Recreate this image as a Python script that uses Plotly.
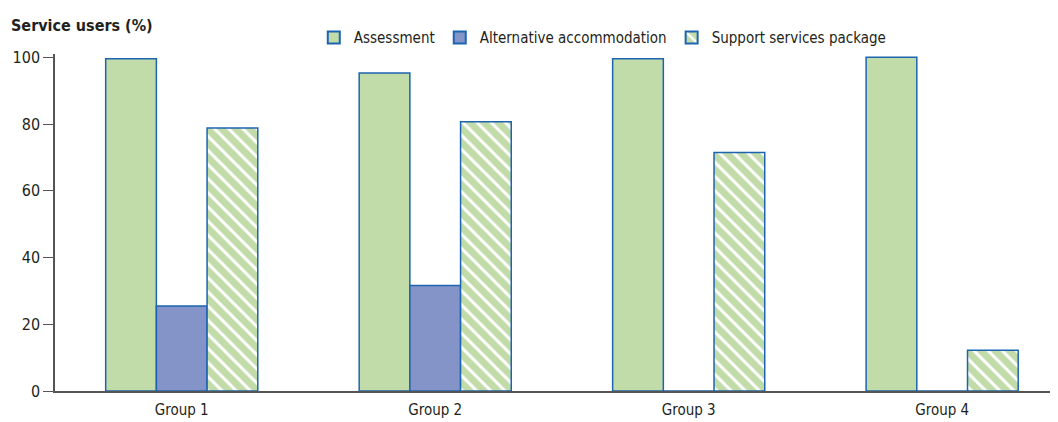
import plotly.graph_objects as go

groups = ["Group 1", "Group 2", "Group 3", "Group 4"]
assessment = [99.6, 95.3, 99.6, 100.0]
alternative = [25.5, 31.6, 0, 0]
support = [78.8, 80.7, 71.5, 12.2]
y_ticks = [0, 20, 40, 60, 80, 100]

FONT = "DejaVu Sans Condensed, Liberation Sans Narrow, sans-serif"
GREEN = "#C2DCA9"
BLUE = "#8494C8"
EDGE = "#1C64B0"
AXIS = "#555555"

fig = go.Figure()
fig.add_trace(go.Bar(name="Assessment", x=groups, y=assessment,
                     marker=dict(color=GREEN, line=dict(color=EDGE, width=1.5))))
fig.add_trace(go.Bar(name="Alternative accommodation", x=groups, y=alternative,
                     marker=dict(color=BLUE, line=dict(color=EDGE, width=1.5))))
fig.add_trace(go.Bar(name="Support services package", x=groups, y=support,
                     marker=dict(color=GREEN, line=dict(color=EDGE, width=1.5),
                                 pattern=dict(shape="\\", fgcolor="white", bgcolor=GREEN,
                                              size=10, solidity=0.3, fillmode="replace"))))

fig.update_layout(
    template="none",
    width=1050, height=414,
    margin=dict(l=47, r=0, t=46, b=31),
    paper_bgcolor="white", plot_bgcolor="white",
    barmode="group", bargap=0.4, bargroupgap=0,
    font=dict(family=FONT, size=15, color="#231F20"),
    showlegend=True,
    legend=dict(orientation="h", x=0.258, xanchor="left", y=1.048, yanchor="middle",
                font=dict(size=15), itemsizing="constant",
                traceorder="normal", bgcolor="rgba(0,0,0,0)"),
    xaxis=dict(range=[-0.5, 3.457], showline=True, linecolor=AXIS, linewidth=1.5,
               ticks="", showgrid=False, automargin=False, ticklabelstandoff=4,
               tickfont=dict(size=15)),
    yaxis=dict(range=[0, 101], tickvals=y_ticks, showline=True, linecolor=AXIS,
               linewidth=1.5, ticks="outside", ticklen=10, tickcolor=AXIS,
               showgrid=False, zeroline=False, automargin=False, tickfont=dict(size=16)),
    annotations=[dict(text="<b>Service users (%)</b>", xref="paper", yref="paper",
                      x=-0.046, y=1.0, xanchor="left", yanchor="middle", yshift=29,
                      showarrow=False, font=dict(size=16, family=FONT))],
)

fig.write_html("out.html")
